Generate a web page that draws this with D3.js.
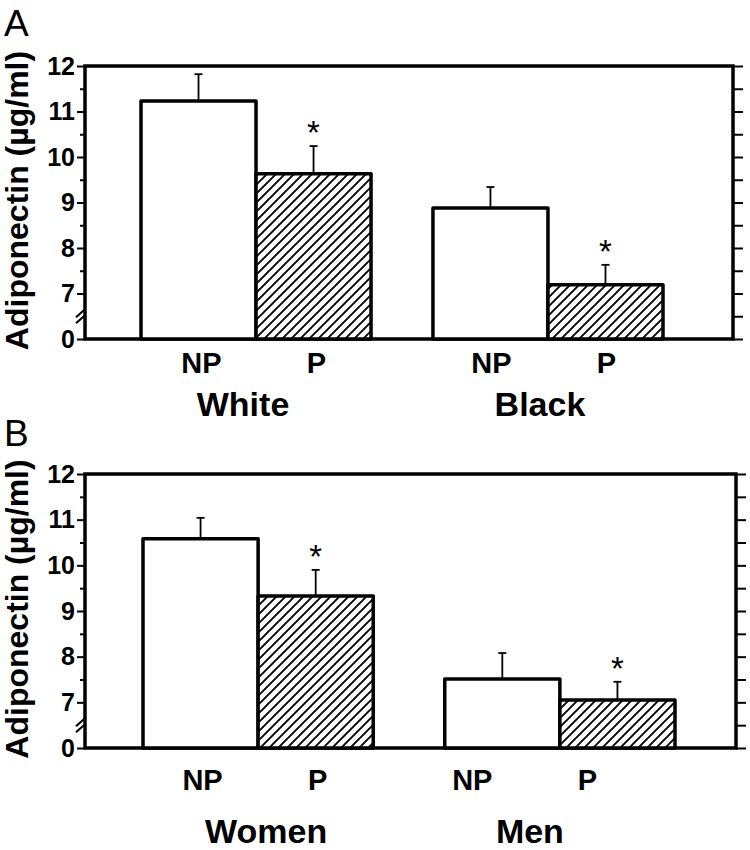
<!DOCTYPE html>
<html>
<head>
<meta charset="utf-8">
<script src="https://cdn.jsdelivr.net/npm/d3@7"></script>
<style>
  html, body { margin: 0; padding: 0; background: #fff; }
  svg { display: block; }
  text { font-family: Arial, "Liberation Sans", Helvetica, sans-serif; fill: #000; }
</style>
</head>
<body>
<svg id="chart" width="750" height="850"></svg>
<script>
// ---------------- data ----------------
const conditions = ["NP", "P"];

const groupsA = ["White", "Black"];
const meanA_NP = [11.23, 8.88];
const meanA_P  = [9.63, 7.19];
const errA_NP  = [0.59, 0.46];
const errA_P   = [0.61, 0.44];
const sigA_P   = [true, true];

const groupsB = ["Women", "Men"];
const meanB_NP = [10.58, 7.51];
const meanB_P  = [9.33, 7.05];
const errB_NP  = [0.46, 0.57];
const errB_P   = [0.57, 0.40];
const sigB_P   = [true, true];

// axis: value 6 is shown as "0" below an axis break
const yTicks      = [6, 7, 8, 9, 10, 11, 12];
const yTickLabels = ["0", "7", "8", "9", "10", "11", "12"];
const yMinorTicks = [6.5, 7.5, 8.5, 9.5, 10.5, 11.5];
const yBreakValue = 6.5;
const yTitle = "Adiponectin (\u00b5g/ml)";

// ---------------- drawing ----------------
const svg = d3.select("#chart");

const defs = svg.append("defs");
const pat = defs.append("pattern")
  .attr("id", "hatch")
  .attr("patternUnits", "userSpaceOnUse")
  .attr("width", 9).attr("height", 9);
pat.append("rect").attr("width", 9).attr("height", 9).attr("fill", "#fff");
pat.append("path")
  .attr("d", "M0,9 L9,0 M-2.25,2.25 L2.25,-2.25 M6.75,11.25 L11.25,6.75")
  .attr("stroke", "#000").attr("stroke-width", 1.9);

function panel(cfg) {
  const g = svg.append("g");
  const y = d3.scaleLinear().domain([6, 12]).range([cfg.bottom, cfg.top]);

  const x0 = d3.scaleBand().domain(cfg.groups).range(cfg.bandRange)
    .paddingInner(cfg.gapInner).paddingOuter(0);
  const x1 = d3.scaleBand().domain(conditions).range([0, x0.bandwidth()]).padding(0);

  // right axis ticks (outward)
  const allRight = yTicks.concat(yMinorTicks);
  const rAxis = g.append("g").attr("transform", `translate(${cfg.right},0)`)
    .call(d3.axisRight(y).tickValues(allRight).tickSize(10).tickFormat(""));
  rAxis.select(".domain").remove();
  rAxis.selectAll(".tick line").attr("stroke", "#000").attr("stroke-width", 2);

  // left major ticks + labels
  const lAxis = g.append("g").attr("transform", `translate(${cfg.left},0)`)
    .call(d3.axisLeft(y).tickValues(yTicks).tickSize(8).tickPadding(2)
      .tickFormat((d, i) => yTickLabels[i]));
  lAxis.select(".domain").remove();
  lAxis.selectAll(".tick line").attr("stroke", "#000").attr("stroke-width", 2);
  lAxis.selectAll(".tick text")
    .style("font-size", "25px").style("font-weight", "bold")
    .attr("font-family", "Arial, 'Liberation Sans', sans-serif");

  // left minor ticks (not at break)
  const lMinor = g.append("g").attr("transform", `translate(${cfg.left},0)`)
    .call(d3.axisLeft(y).tickValues(yMinorTicks.filter(v => v !== yBreakValue))
      .tickSize(5).tickFormat(""));
  lMinor.select(".domain").remove();
  lMinor.selectAll(".tick line").attr("stroke", "#000").attr("stroke-width", 2);

  // frame
  g.append("rect")
    .attr("x", cfg.left).attr("y", y(12))
    .attr("width", cfg.right - cfg.left).attr("height", y(6) - y(12))
    .attr("fill", "none").attr("stroke", "#000").attr("stroke-width", 3.5);

  // axis break marks
  const yb = y(yBreakValue);
  [-3, 3].forEach(off => {
    g.append("line")
      .attr("x1", cfg.left - 9).attr("y1", yb + off + 4)
      .attr("x2", cfg.left).attr("y2", yb + off - 4)
      .attr("stroke", "#000").attr("stroke-width", 2);
  });

  // bars
  const rows = [];
  cfg.groups.forEach((grp, i) => {
    rows.push({ grp, cond: "NP", v: cfg.np[i], e: cfg.npErr[i], sig: false });
    rows.push({ grp, cond: "P", v: cfg.p[i], e: cfg.pErr[i], sig: cfg.sigP[i] });
  });

  const bx = d => x0(d.grp) + x1(d.cond);
  const cx = d => bx(d) + x1.bandwidth() / 2;

  // error bars (upper only)
  rows.forEach(d => {
    g.append("line")
      .attr("x1", cx(d)).attr("x2", cx(d))
      .attr("y1", y(d.v)).attr("y2", y(d.v + d.e))
      .attr("stroke", "#000").attr("stroke-width", 1.8);
    g.append("line")
      .attr("x1", cx(d) - 4).attr("x2", cx(d) + 4)
      .attr("y1", y(d.v + d.e)).attr("y2", y(d.v + d.e))
      .attr("stroke", "#000").attr("stroke-width", 1.8);
  });

  g.selectAll("rect.bar").data(rows).join("rect")
    .attr("class", "bar")
    .attr("x", bx)
    .attr("y", d => y(d.v))
    .attr("width", x1.bandwidth())
    .attr("height", d => y(6) - y(d.v))
    .attr("fill", d => d.cond === "P" ? "url(#hatch)" : "#fff")
    .attr("stroke", "#000").attr("stroke-width", 3.5)
    .attr("stroke-linejoin", "round");

  // significance asterisks
  g.selectAll("text.sig").data(rows.filter(d => d.sig)).join("text")
    .attr("class", "sig")
    .attr("x", cx)
    .attr("y", d => y(d.v + d.e) - 2)
    .attr("text-anchor", "middle")
    .style("font-size", "33px")
    .text("*");

  // condition labels
  g.selectAll("text.cond").data(rows).join("text")
    .attr("class", "cond")
    .attr("x", d => cx(d) + cfg.condShift[d.grp])
    .attr("y", cfg.condBaseline)
    .attr("text-anchor", "middle")
    .style("font-size", "29px").style("font-weight", "bold")
    .text(d => d.cond);

  // group labels
  g.selectAll("text.grp").data(cfg.groups).join("text")
    .attr("class", "grp")
    .attr("x", d => x0(d) + x0.bandwidth() / 2 + cfg.grpShift[d])
    .attr("y", cfg.grpBaseline)
    .attr("text-anchor", "middle")
    .style("font-size", "34px").style("font-weight", "bold")
    .text(d => d);

  // y title
  g.append("text")
    .attr("transform", `translate(${cfg.titleX},${(y(12) + y(6)) / 2 - 2}) rotate(-90)`)
    .attr("text-anchor", "middle")
    .style("font-size", "32px").style("font-weight", "bold")
    .text(yTitle);

  // panel letter
  g.append("text")
    .attr("x", 4).attr("y", cfg.letterY)
    .style("font-size", "37px")
    .text(cfg.letter);
}

panel({
  letter: "A", letterY: 36,
  top: 66, bottom: 339, left: 85, right: 733,
  bandRange: [141, 663], gapInner: 0.212,
  groups: groupsA, np: meanA_NP, p: meanA_P, npErr: errA_NP, pErr: errA_P, sigP: sigA_P,
  condBaseline: 373, grpBaseline: 416,
  condShift: { White: 3, Black: 1 }, grpShift: { White: -13, Black: -8 },
  titleX: 28
});

panel({
  letter: "B", letterY: 446,
  top: 474, bottom: 748, left: 85, right: 736,
  bandRange: [143, 675], gapInner: 0.237,
  groups: groupsB, np: meanB_NP, p: meanB_P, npErr: errB_NP, pErr: errB_P, sigP: sigB_P,
  condBaseline: 790, grpBaseline: 843,
  condShift: { Women: 2, Men: -30 }, grpShift: { Women: 8, Men: -30 },
  titleX: 28
});
</script>
</body>
</html>
